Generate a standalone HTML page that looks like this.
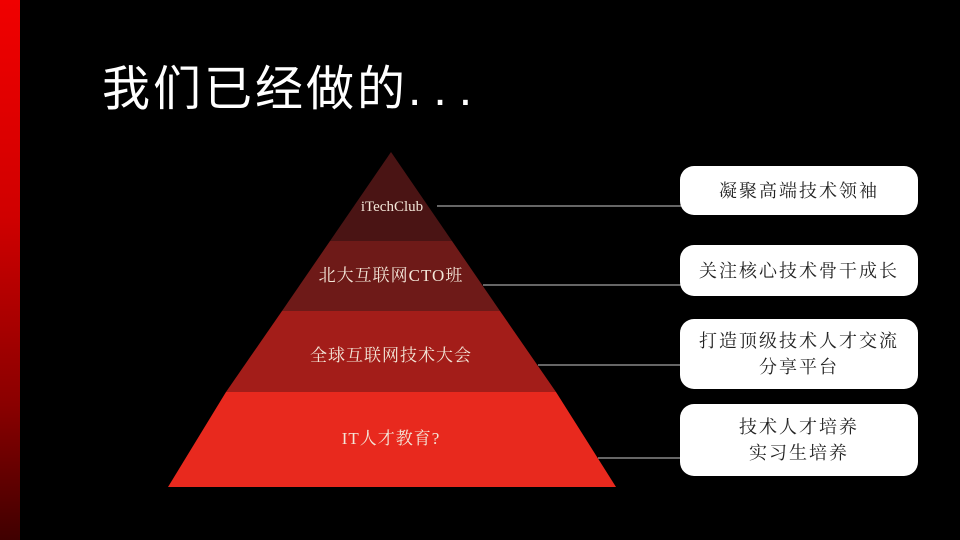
<!DOCTYPE html>
<html><head><meta charset="utf-8"><style>
html,body{margin:0;padding:0;background:#000;}
#s{position:relative;width:960px;height:540px;overflow:hidden;background:#000;font-family:"Liberation Serif","Noto Serif CJK SC",serif;}
#bar{position:absolute;left:0;top:0;width:20px;height:540px;background:linear-gradient(#f00000,#d00000 40%,#8a0000 75%,#400000);}
#t{position:absolute;left:102px;top:49px;font-family:"Liberation Sans","Noto Sans CJK SC",sans-serif;font-size:48px;color:#fff;letter-spacing:3px;}
#t span{letter-spacing:12px;}
.b{position:absolute;left:680px;width:238px;background:#fff;border-radius:14px;display:flex;align-items:center;justify-content:center;text-align:center;font-size:18px;color:#222;line-height:26px;letter-spacing:2px;}
</style></head><body><div id="s">
<div id="bar"></div>
<div id="t">我们已经做的<span>...</span></div>
<svg width="960" height="540" style="position:absolute;left:0;top:0">
<polygon points="391,152 452,241 330,241" fill="#4a1414"/>
<polygon points="330,241 452,241 500,311 282,311" fill="#6e1a18"/>
<polygon points="282,311 500,311 556,392 226,392" fill="#a31d19"/>
<polygon points="226,392 556,392 616,487 168,487" fill="#e8291e"/>
<g stroke="#ccc" stroke-width="1">
<line x1="437" y1="206" x2="681" y2="206"/>
<line x1="483" y1="285" x2="681" y2="285"/>
<line x1="538" y1="365" x2="681" y2="365"/>
<line x1="598" y1="458" x2="681" y2="458"/>
</g>
<g fill="#f3e6d8" font-family="Liberation Serif, Noto Serif CJK SC, serif" font-size="17" text-anchor="middle" letter-spacing="1">
<text x="392" y="211" font-size="15" letter-spacing="0">iTechClub</text>
<text x="391" y="281">北大互联网CTO班</text>
<text x="391" y="361">全球互联网技术大会</text>
<text x="391" y="444">IT人才教育?</text>
</g>
</svg>
<div class="b" style="top:166px;height:49px">凝聚高端技术领袖</div>
<div class="b" style="top:245px;height:51px">关注核心技术骨干成长</div>
<div class="b" style="top:319px;height:70px">打造顶级技术人才交流<br>分享平台</div>
<div class="b" style="top:404px;height:72px">技术人才培养<br>实习生培养</div>
</div></body></html>
